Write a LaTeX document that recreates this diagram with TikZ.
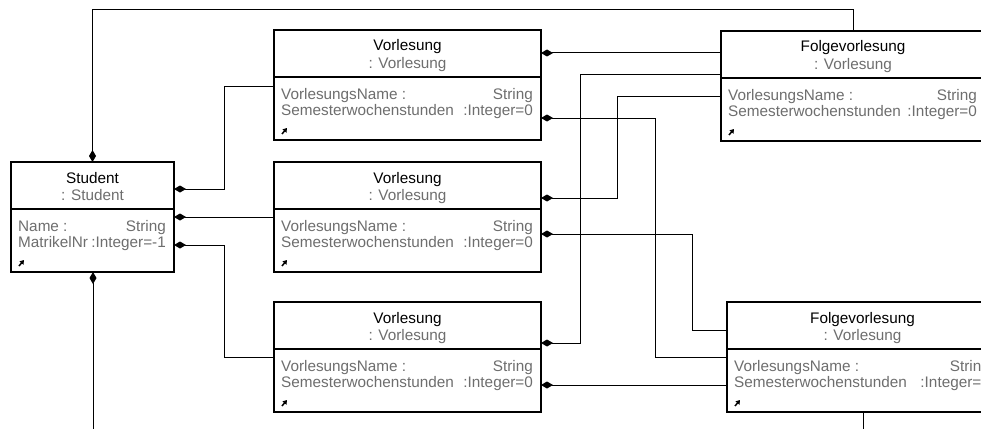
\documentclass[tikz,border=0pt]{standalone}
\usepackage{fontspec}
\setmainfont{Liberation Sans}
\usetikzlibrary{arrows.meta,calc}
\definecolor{attrgray}{HTML}{6E6E6E}

\tikzset{
  objframe/.style={draw=black, line width=1.8pt, fill=white, minimum height=110pt,
    inner sep=0pt, outer sep=0pt},
  divider/.style={draw=black, line width=1.6pt},
  txt/.style={inner sep=0pt, text height=11pt, text depth=3pt,
    font=\fontsize{15.3pt}{16pt}\selectfont},
  titletext/.style={txt, text=black},
  subtext/.style={txt, text=attrgray},
  attrtext/.style={txt, text=attrgray},
  linkicon/.style={line width=1.5pt, -{Triangle[length=4pt,width=5pt]}},
  assoc/.style={draw=black, line width=1pt, {Diamond[length=12pt,width=7pt]}-},
  plainlink/.style={draw=black, line width=1pt},
}

% one UML object: name, top-left corner, width, title, class,
% first attribute (name / type), second attribute (name / type)
\newcommand\umlobject[9]{%
  \node[objframe, minimum width=#3, anchor=north west] (#1) at #2 {};
  \draw[divider] ($(#1.north west)+(0,47)$) -- ($(#1.north east)+(0,47)$);
  \node[titletext] at ($(#1.north)+(0,17)$) {#4};
  \node[subtext] at ($(#1.north)+(0,34)$) {#5};
  \node[attrtext, anchor=west] at ($(#1.north west)+(7,65)$) {#6};
  \node[attrtext, anchor=east] at ($(#1.north east)+(-8,65)$) {#7};
  \node[attrtext, anchor=west] at ($(#1.north west)+(7,81)$) {#8};
  \node[attrtext, anchor=east] at ($(#1.north east)+(-8,81)$) {#9};
  \draw[linkicon] ($(#1.north west)+(8,104)$) -- ++(5,-6);
}

\begin{document}
\begin{tikzpicture}[x=1pt, y=-1pt]
  \useasboundingbox (0,0) rectangle (981,428);
  \fill[white] (0,0) rectangle (981,428);
  \clip (0,0) rectangle (981,428);

  % objects
  \umlobject{st}{(11,162)}{163pt}{Student}{: Student}{Name :}{String}{MatrikelNr}{:Integer=-1}
  \umlobject{v1}{(274,30)}{267pt}{Vorlesung}{: Vorlesung}{VorlesungsName :}{String}{Semesterwochenstunden}{:Integer=0}
  \umlobject{v2}{(274,162)}{267pt}{Vorlesung}{: Vorlesung}{VorlesungsName :}{String}{Semesterwochenstunden}{:Integer=0}
  \umlobject{v3}{(274,302)}{267pt}{Vorlesung}{: Vorlesung}{VorlesungsName :}{String}{Semesterwochenstunden}{:Integer=0}
  \umlobject{f1}{(721,31)}{264pt}{Folgevorlesung}{: Vorlesung}{VorlesungsName :}{String}{Semesterwochenstunden}{:Integer=0}
  \umlobject{f2}{(727,302)}{271pt}{Folgevorlesung}{: Vorlesung}{VorlesungsName :}{String}{Semesterwochenstunden}{:Integer=0}

  % loose ends leaving the drawing area
  \coordinate (stend) at (93,430);
  \coordinate (f2end) at (863,430);

  % associations of the student
  \draw[assoc] (st.north) -- ++(0,-152) -| (f1.north);
  \draw[assoc] (st.south -| stend) -- (stend);
  \draw[assoc] (st.east |- 0,189) -| (224,86) -- (v1.west |- 0,86);
  \draw[assoc] (st.east |- 0,217) -- (v2.west |- 0,217);
  \draw[assoc] (st.east |- 0,245) -| (224,357) -- (v3.west |- 0,357);

  % lectures to follow-up lectures
  \draw[assoc] (v1.east |- 0,53) -- (f1.west |- 0,53);
  \draw[assoc] (v1.east |- 0,118) -| (655,357) -- (f2.west |- 0,357);
  \draw[assoc] (v2.east |- 0,198) -| (617,96) -- (f1.west |- 0,96);
  \draw[assoc] (v2.east |- 0,234) -| (692,330) -- (f2.west |- 0,330);
  \draw[assoc] (v3.east |- 0,343) -| (580,74) -- (f1.west |- 0,74);
  \draw[assoc] (v3.east |- 0,385) -- (f2.west |- 0,385);

  \draw[plainlink] (f2.south -| f2end) -- (f2end);
\end{tikzpicture}
\end{document}
